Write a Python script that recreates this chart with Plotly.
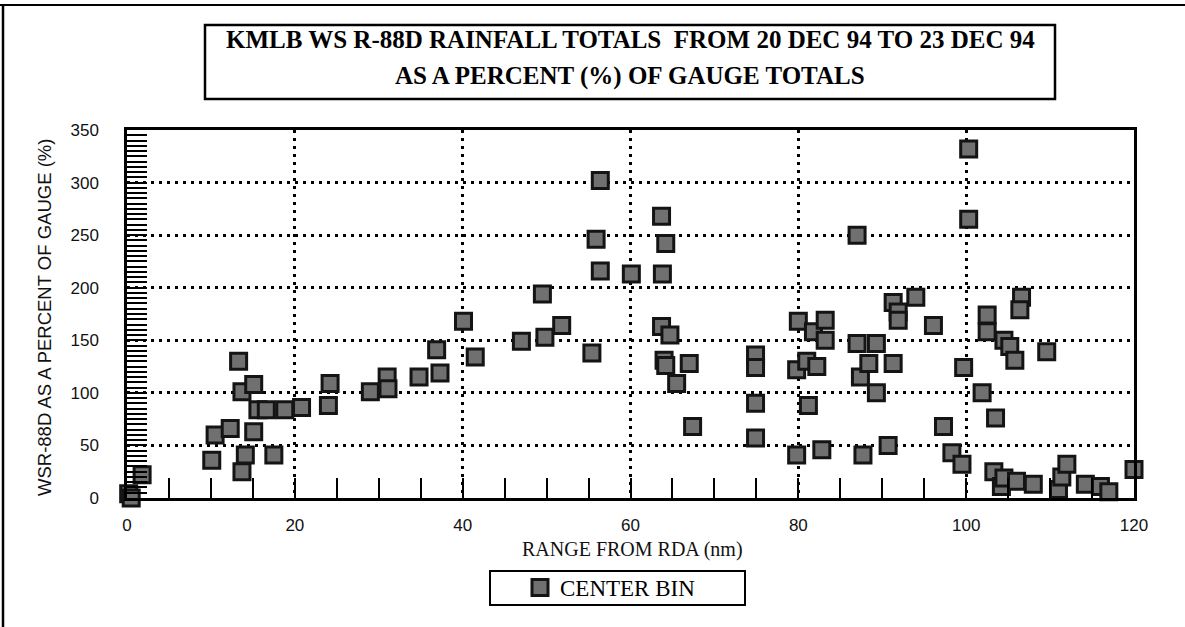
import plotly.graph_objects as go

# Range from the radar (nm) and WSR-88D total as a percent of the gauge total
range_nm = [
    0.2, 0.5, 1.8, 10.1, 10.5, 12.3, 13.3, 13.7, 13.7, 14.1,
    15.1, 15.1, 15.6, 16.6, 17.5, 18.8, 20.8, 24.0, 24.2, 29.0,
    31.0, 31.1, 34.8, 36.9, 37.3, 40.1, 41.5, 47.0, 49.5, 49.8,
    51.8, 55.4, 55.9, 56.4, 56.4, 60.1, 63.7, 63.8, 63.7, 64.2,
    64.7, 64.0, 64.2, 65.5, 67.0, 67.4, 74.9, 74.9, 74.9, 74.9,
    79.8, 79.8, 80.0, 81.0, 81.2, 81.8, 82.2, 82.8, 83.2, 83.2,
    87.0, 87.0, 87.4, 87.7, 88.4, 89.3, 89.3, 90.7, 91.3, 91.3,
    91.9, 91.9, 94.0, 96.1, 97.3, 98.3, 99.5, 99.7, 100.3, 100.3,
    101.9, 102.5, 102.5, 103.5, 103.3, 104.5, 104.2, 104.5, 105.2, 105.8,
    106.6, 106.4, 106.0, 108.0, 109.6, 111.0, 111.4, 112.0, 114.2, 116.0,
    117.0, 120.0,
]
pct_of_gauge = [
    4, 0, 22, 36, 60, 66, 130, 101, 25, 41,
    108, 63, 84, 84, 41, 84, 86, 88, 109, 101,
    115, 104, 115, 141, 119, 168, 134, 149, 194, 153,
    164, 138, 246, 302, 216, 213, 268, 213, 163, 242,
    155, 131, 126, 109, 128, 68, 136, 124, 90, 57,
    41, 122, 168, 130, 88, 158, 125, 46, 169, 150,
    250, 147, 115, 41, 128, 147, 100, 50, 128, 186,
    177, 169, 191, 164, 68, 43, 32, 124, 332, 265,
    100, 174, 158, 76, 25, 150, 11, 19, 144, 131,
    191, 179, 16, 13, 139, 8, 20, 32, 13, 11,
    6, 27,
]

x_ticks = [0, 20, 40, 60, 80, 100, 120]
y_ticks = [0, 50, 100, 150, 200, 250, 300, 350]

title_lines = [
    "KMLB WS R-88D RAINFALL TOTALS  FROM 20 DEC 94 TO 23 DEC 94",
    "AS A PERCENT (%) OF GAUGE TOTALS",
]

W, H = 1185, 627
L, R, T, B = 127, 51, 130, 129
PW, PH = W - L - R, H - T - B


def px(xp):
    return (xp - L) / PW


def py(yp):
    return (H - B - yp) / PH


fig = go.Figure()
fig.add_trace(go.Scatter(
    x=range_nm, y=pct_of_gauge, mode="markers", name="CENTER BIN",
    cliponaxis=False,
    marker=dict(symbol="square", size=16, color="#707070",
                line=dict(color="#141414", width=3)),
))

sans = "Liberation Sans, Arial, sans-serif"
serif = "Liberation Serif, Times New Roman, serif"

axis_common = dict(
    showline=True, linecolor="black", linewidth=2.5, mirror=True,
    ticks="inside", ticklen=20, tickwidth=2, tickcolor="black",
    showgrid=True, gridcolor="black", gridwidth=3, griddash="3px,5px",
    zeroline=False,
    tickfont=dict(family=sans, size=17, color="#111"),
)

fig.update_xaxes(
    range=[0, 120], tickvals=x_ticks, ticktext=[str(v) for v in x_ticks],
    minor=dict(dtick=5, tick0=0, ticks="inside", ticklen=20, tickwidth=2,
               tickcolor="black", showgrid=False),
    ticklabelstandoff=10, **axis_common,
)
fig.update_yaxes(
    range=[0, 350], tickvals=y_ticks, ticktext=[str(v) for v in y_ticks],
    minor=dict(dtick=5, tick0=0, ticks="inside", ticklen=20, tickwidth=2,
               tickcolor="black", showgrid=False),
    ticklabelstandoff=22, **axis_common,
)

shapes = [
    # outer frame (top and left edges)
    dict(type="line", xref="paper", yref="paper", x0=px(0), x1=px(W + 5),
         y0=py(5), y1=py(5), line=dict(color="black", width=2)),
    dict(type="line", xref="paper", yref="paper", x0=px(3), x1=px(3),
         y0=py(5), y1=py(H + 5), line=dict(color="black", width=2.5)),
    # title box
    dict(type="rect", xref="paper", yref="paper", x0=px(205), x1=px(1055),
         y0=py(99), y1=py(25), line=dict(color="black", width=2.5)),
    # legend box
    dict(type="rect", xref="paper", yref="paper", x0=px(490), x1=px(745),
         y0=py(605), y1=py(571), line=dict(color="black", width=2)),
]

annotations = [
    dict(text="<b>" + title_lines[0] + "</b>", xref="paper", yref="paper",
         x=px(630), y=py(39), showarrow=False, xanchor="center", yanchor="middle",
         font=dict(family=serif, size=25, color="black")),
    dict(text="<b>" + title_lines[1] + "</b>", xref="paper", yref="paper",
         x=px(630), y=py(76), showarrow=False, xanchor="center", yanchor="middle",
         font=dict(family=serif, size=25, color="black")),
    dict(text="RANGE FROM RDA (nm)", xref="paper", yref="paper",
         x=px(632), y=py(549), showarrow=False, xanchor="center", yanchor="middle",
         font=dict(family=serif, size=20, color="#111")),
    dict(text="WSR-88D AS A PERCENT OF GAUGE (%)", xref="paper", yref="paper",
         x=px(44), y=py(318), showarrow=False, xanchor="center", yanchor="middle",
         textangle=-90,
         font=dict(family=sans, size=18.5, color="#111")),
]

fig.update_layout(
    width=W, height=H,
    margin=dict(l=L, r=R, t=T, b=B),
    paper_bgcolor="white", plot_bgcolor="white",
    shapes=shapes, annotations=annotations,
    showlegend=True,
    legend=dict(x=px(520), y=py(566), xanchor="left", yanchor="top",
                bgcolor="rgba(0,0,0,0)", borderwidth=0,
                font=dict(family=serif, size=23, color="black")),
)

fig.write_html("out.html")
